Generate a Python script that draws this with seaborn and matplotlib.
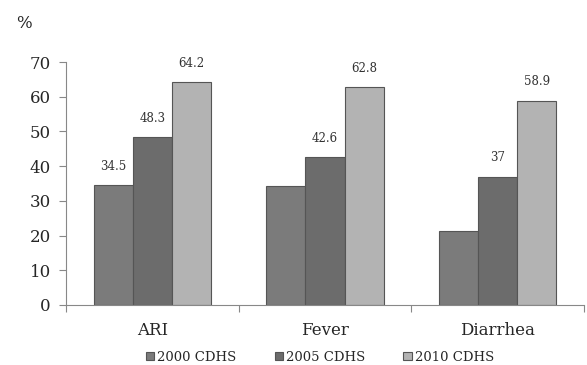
import pandas as pd
import matplotlib.pyplot as plt
import seaborn as sns

# data
categories = ['ARI', 'Fever', 'Diarrhea']
surveys = ['2000 CDHS', '2005 CDHS', '2010 CDHS']
vals_2000 = [34.5, 34.3, 21.3]
vals_2005 = [48.3, 42.6, 37]
vals_2010 = [64.2, 62.8, 58.9]
# only some bars carry a number in the original
labels_2000 = ['34.5', None, None]
labels_2005 = ['48.3', '42.6', '37']
labels_2010 = ['64.2', '62.8', '58.9']

colors = ['#7b7b7b', '#6c6c6c', '#b3b3b3']

sns.set_theme(style='white')
plt.rcParams['font.family'] = ['DejaVu Serif']

rows = []
for s, vals in zip(surveys, [vals_2000, vals_2005, vals_2010]):
    for c, v in zip(categories, vals):
        rows.append({'category': c, 'survey': s, 'value': v})
df = pd.DataFrame(rows)

fig = plt.figure(figsize=(5.87, 3.65), dpi=100)
ax = fig.add_axes([0.1124, 0.1644, 0.8826, 0.6656])

sns.barplot(data=df, x='category', y='value', hue='survey', palette=colors,
            width=0.68, edgecolor='#555555', linewidth=0.8, saturation=1,
            ax=ax)

# value labels
for cont, labs in zip(ax.containers, [labels_2000, labels_2005, labels_2010]):
    ax.bar_label(cont, labels=[l if l else '' for l in labs], padding=9,
                 fontsize=8.5, color='#333333')

ax.set_xlim(-0.5, 2.5)
ax.set_ylim(0, 70)
ax.set_yticks(range(0, 71, 10))
ax.set_xlabel('')
ax.set_ylabel('')
ax.tick_params(axis='y', labelsize=12, length=5, width=0.8, color='#888888',
               direction='out', left=True, pad=6)
ax.tick_params(axis='x', which='major', labelsize=12, length=0, pad=12)
ax.set_xticks([-0.5, 0.5, 1.5, 2.5], minor=True)
ax.tick_params(axis='x', which='minor', length=5, width=0.8, color='#888888',
               direction='out', bottom=True)
for side in ['top', 'right']:
    ax.spines[side].set_visible(False)
for side in ['left', 'bottom']:
    ax.spines[side].set_color('#888888')
    ax.spines[side].set_linewidth(0.8)

fig.text(0.041, 0.935, '%', fontsize=12, ha='center', va='center')

ax.legend(loc='center', bbox_to_anchor=(0.49, -0.215), ncol=3,
          frameon=False, fontsize=9.5, handlelength=0.65, handleheight=0.65,
          handletextpad=0.2, columnspacing=2.9)

fig.savefig('out.png', dpi=100)
